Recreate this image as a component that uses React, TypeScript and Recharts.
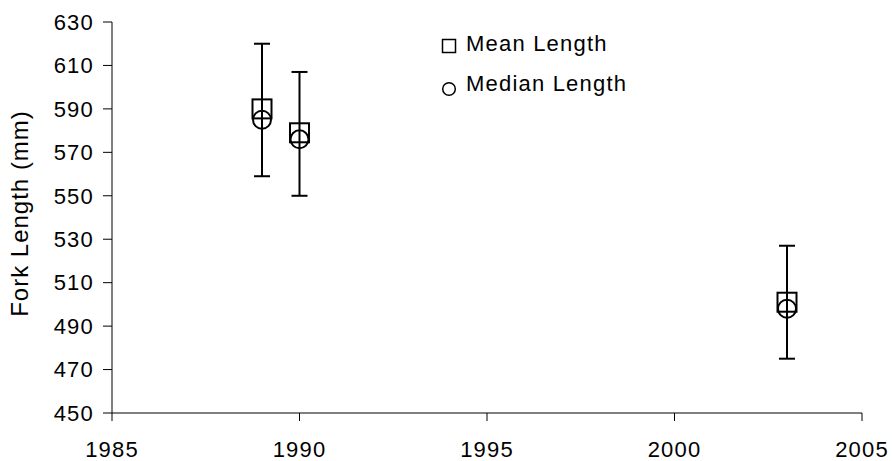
import React from 'react';
import { ScatterChart, Scatter, XAxis, YAxis, ErrorBar } from 'recharts';

const years = [1989, 1990, 2003];
const meanLength = [590, 579, 501];
const medianLength = [585, 576, 498];
const errLow = [31, 29, 26];
const errHigh = [30, 28, 26];
const xTicks = [1985, 1990, 1995, 2000, 2005];
const yTicks = [450, 470, 490, 510, 530, 550, 570, 590, 610, 630];
const legendLabels = ['Mean Length', 'Median Length'];

const meanData = years.map((x, i) => ({ x, y: meanLength[i], err: [errLow[i], errHigh[i]] }));
const medianData = years.map((x, i) => ({ x, y: medianLength[i] }));

const font = 'Liberation Sans, Arial, sans-serif';

const SquareShape = (props: any) => {
  const { cx, cy } = props;
  return <rect x={cx - 9.5} y={cy - 9.5} width={19} height={19} fill="none" stroke="#000" strokeWidth={2} />;
};
const CircleShape = (props: any) => {
  const { cx, cy } = props;
  return <circle cx={cx} cy={cy} r={9} fill="none" stroke="#000" strokeWidth={2} />;
};

const YLabel = (props: any) => {
  const vb = props.viewBox || { x: 0, y: 0, width: 0, height: 0 };
  const cx = 28;
  const cy = vb.y + vb.height / 2 - 4;
  return (
    <text
      x={cx}
      y={cy}
      transform={`rotate(-90, ${cx}, ${cy})`}
      textAnchor="middle"
      fill="#000"
      fontSize={24}
      fontFamily={font}
      letterSpacing={1}
    >
      Fork Length (mm)
    </text>
  );
};

export default function App() {
  return (
    <div style={{ position: 'fixed', left: 0, top: 0, width: 892, height: 461, background: '#fff' }}>
      <ScatterChart width={892} height={461} margin={{ top: 22, right: 30, bottom: 0, left: 30 }}>
        <XAxis
          type="number"
          dataKey="x"
          domain={[1985, 2005]}
          ticks={xTicks}
          interval={0}
          allowDataOverflow
          height={48}
          stroke="#000"
          tickLine={{ stroke: '#000' }}
          tickSize={8}
          tickMargin={20}
          tick={{ fill: '#000', fontSize: 22, fontFamily: font, letterSpacing: 1.2 }}
        />
        <YAxis
          type="number"
          dataKey="y"
          domain={[450, 630]}
          ticks={yTicks}
          interval={0}
          width={82}
          stroke="#000"
          tickLine={{ stroke: '#000' }}
          tickSize={9}
          tickMargin={2}
          tick={{ fill: '#000', fontSize: 22, fontFamily: font, dx: -7, letterSpacing: 1.2 }}
          label={<YLabel />}
        />
        <Scatter name="Mean Length" data={meanData} shape={<SquareShape />} isAnimationActive={false}>
          <ErrorBar dataKey="err" direction="y" width={8} stroke="#000" strokeWidth={2} />
        </Scatter>
        <Scatter name="Median Length" data={medianData} shape={<CircleShape />} isAnimationActive={false} />
      </ScatterChart>
      <svg width={892} height={461} style={{ position: 'absolute', left: 0, top: 0, pointerEvents: 'none' }}>
        <rect x={442.5} y={39.5} width={13} height={13} fill="none" stroke="#000" strokeWidth={1.5} />
        <text x={466} y={51} fontSize={22} fontFamily={font} fill="#000" letterSpacing={1.2}>
          {legendLabels[0]}
        </text>
        <circle cx={449} cy={89} r={6.3} fill="none" stroke="#000" strokeWidth={1.5} />
        <text x={466} y={91} fontSize={22} fontFamily={font} fill="#000" letterSpacing={1.2}>
          {legendLabels[1]}
        </text>
      </svg>
    </div>
  );
}
